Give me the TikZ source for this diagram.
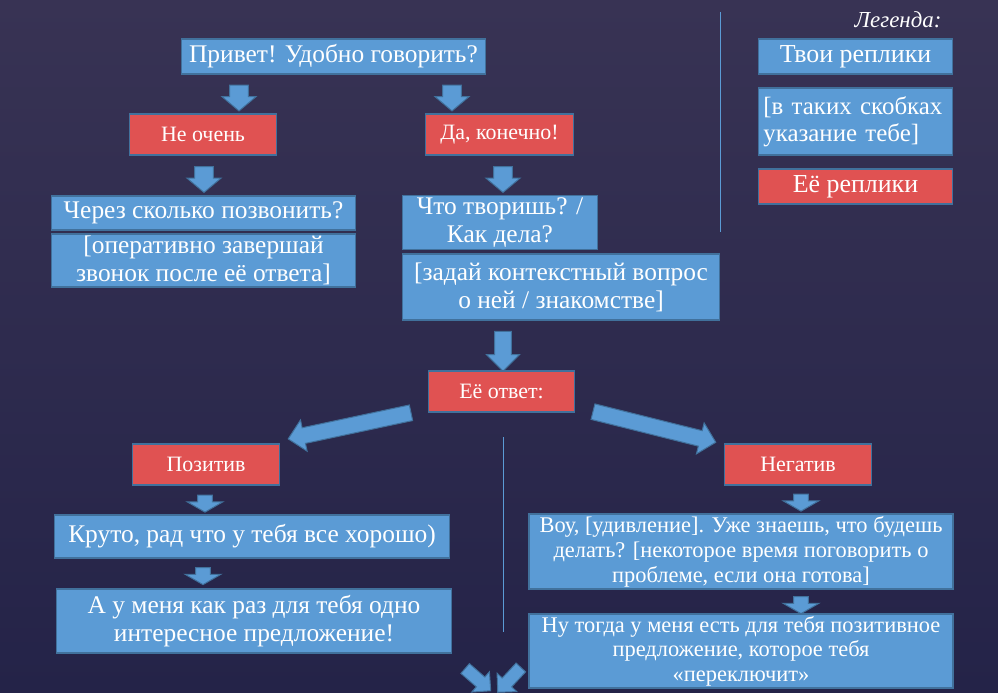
\documentclass[tikz,border=0pt]{standalone}
\usepackage{fontspec}
\setmainfont{Liberation Serif}
\usetikzlibrary{shapes.arrows}

\definecolor{replyblue}{RGB}{91,155,213}
\definecolor{replyedge}{RGB}{65,113,156}
\definecolor{herred}{RGB}{224,82,82}
\definecolor{bgtop}{RGB}{56,51,84}
\definecolor{bgbottom}{RGB}{36,35,72}

\tikzset{
  mine/.style={draw=replyedge, fill=replyblue, line width=1.5pt, text=white, align=center, inner sep=2pt, font=\fontsize{25.5}{28}\selectfont},
  hers/.style={draw=replyedge, fill=herred, line width=1.5pt, text=white, align=center, inner sep=2pt, font=\fontsize{22}{25}\selectfont},
  fatarrow/.style={single arrow, draw=replyedge, fill=replyblue, line width=1pt, inner xsep=0pt},
  downarrow/.style={fatarrow, rotate=-90, minimum height=26, inner ysep=9, single arrow head extend=7.5, single arrow tip angle=100},
  shortarrow/.style={fatarrow, rotate=-90, minimum height=17, inner ysep=7, single arrow head extend=10.5, single arrow tip angle=120}
}

\begin{document}
\begin{tikzpicture}[x=1bp, y=-1bp]
        \shade[top color=bgtop, bottom color=bgbottom] (0, 0) rectangle (998, 693);
        \useasboundingbox (0, 0) rectangle (998, 693);

        \draw[replyblue, line width=1pt] (720, 12) -- (720, 232);
        \draw[replyblue, line width=1pt] (503, 437) -- (503, 632);

        \node[mine, minimum width=305, minimum height=35] (hello) at (333.5, 56.5) {Привет! Удобно говорить?};
        \node[downarrow] (a1) at (239, 94) {};
        \node[downarrow] (a2) at (452, 94) {};

        \node[hers, minimum width=148, minimum height=41] (notnow) at (203, 134.5) {Не очень};
        \node[hers, minimum width=149, minimum height=41] (sure) at (499.5, 134.5) {Да, конечно!};
        \node[downarrow] (a3) at (204, 175.5) {};
        \node[downarrow] (a4) at (503, 175.5) {};

        \node[mine, minimum width=305, minimum height=34] (when) at (203.5, 213) {Через сколько позвонить?};
        \node[mine, minimum width=305, minimum height=53] (finish) at (203.5, 260.5) {[оперативно завершай\\звонок после её ответа]};

        \node[mine, minimum width=196, minimum height=53] (how) at (500, 222.5) {Что творишь? /\\Как дела?};
        \node[mine, minimum width=318, minimum height=66] (ask) at (561, 287) {[задай контекстный вопрос\\о ней / знакомстве]};

        \node[fatarrow, rotate=-90, minimum height=40, inner ysep=8, single arrow head extend=8, single arrow tip angle=90] (a5) at (503, 347) {};
        \node[hers, minimum width=147, minimum height=41] (answer) at (501.5, 391.5) {Её ответ:};

        \node[fatarrow, rotate=192, minimum height=126, inner ysep=7.5, single arrow head extend=8, single arrow tip angle=90] (toleft) at (353.5, 425) {};
        \node[fatarrow, rotate=-14, minimum height=127, inner ysep=7.5, single arrow head extend=8, single arrow tip angle=90] (toright) at (650.5, 426) {};

        \node[hers, minimum width=148, minimum height=41] (positive) at (206, 464.5) {Позитив};
        \node[shortarrow] (a6) at (205, 501.5) {};
        \node[mine, minimum width=396, minimum height=43] (cool) at (252, 536.5) {Круто, рад что у тебя все хорошо)};
        \node[shortarrow] (a7) at (203, 574) {};
        \node[mine, minimum width=396, minimum height=64] (offer) at (254, 621) {А у меня как раз для тебя одно\\интересное предложение!};

        \node[hers, minimum width=148, minimum height=41] (negative) at (798, 464.5) {Негатив};
        \node[shortarrow] (a8) at (801, 500.5) {};
        \node[mine, font=\fontsize{22.5}{25}\selectfont, minimum width=426, minimum height=73] (wow) at (741, 551.5) {Воу, [удивление]. Уже знаешь, что будешь\\делать? [некоторое время поговорить о\\проблеме, если она готова]};
        \node[shortarrow] (a9) at (801, 603) {};
        \node[mine, font=\fontsize{22.5}{24.5}\selectfont, minimum width=426, minimum height=72] (switch) at (741, 651) {Ну тогда у меня есть для тебя позитивное\\предложение, которое тебя\\«переключит»};

        \node[fatarrow, rotate=-41, minimum height=34, inner ysep=6, single arrow head extend=7, single arrow tip angle=90] (b1) at (475.5, 677.5) {};
        \node[fatarrow, rotate=-133, minimum height=34, inner ysep=6, single arrow head extend=7, single arrow tip angle=90] (b2) at (511.5, 677.5) {};

        \node[anchor=east, text=white, font=\itshape\fontsize{23}{26}\selectfont] (legend) at (945, 20) {Легенда:};
        \node[mine, font=\fontsize{26}{28}\selectfont, minimum width=195, minimum height=35] (mykey) at (855.5, 56.5) {Твои реплики};
        \node[mine, align=left, inner xsep=5pt, text width=185, minimum height=67, font=\fontsize{25}{27}\selectfont] (hintkey) at (855.5, 121.5) {[в таких скобках\\указание тебе]};
        \node[hers, font=\fontsize{26}{28}\selectfont, minimum width=195, minimum height=35] (herkey) at (855.5, 186.5) {Её реплики};
      \end{tikzpicture}
\end{document}
